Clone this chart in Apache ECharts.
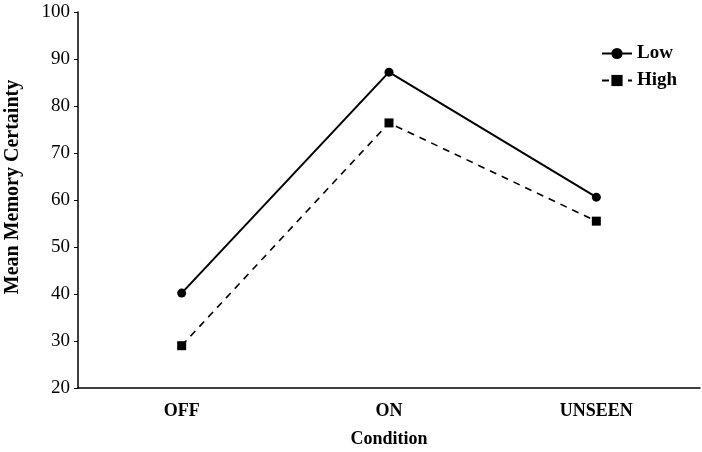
<!DOCTYPE html>
<html>
<head>
<meta charset="utf-8">
<script src="https://cdn.jsdelivr.net/npm/echarts@6/dist/echarts.min.js"></script>
<style>html,body{margin:0;padding:0;background:#fff}#c{width:702px;height:452px}</style>
</head>
<body>
<div id="c"></div>
<script>
const categories = ['OFF', 'ON', 'UNSEEN'];
const lowValues = [40.2, 87.2, 60.6];
const highValues = [29.0, 76.4, 55.5];
const yTicks = [20, 30, 40, 50, 60, 70, 80, 90, 100];

const serif = 'Liberation Serif';
const chart = echarts.init(document.getElementById('c'), null, {renderer: 'canvas'});
chart.setOption({
  backgroundColor: '#fff',
  animation: false,
  grid: {left: 78, right: 2, top: 12, bottom: 64, containLabel: false, outerBoundsMode: 'none'},
  legend: {
    orient: 'vertical', left: 596, top: 39, itemGap: 8,
    itemWidth: 30, itemHeight: 14,
    textStyle: {fontFamily: serif, fontWeight: 'bold', fontSize: 19, color: '#000'},
    data: ['Low', 'High']
  },
  xAxis: {
    type: 'category', data: categories, boundaryGap: true,
    name: 'Condition', nameLocation: 'middle', nameGap: 42,
    nameTextStyle: {fontFamily: serif, fontWeight: 'bold', fontSize: 18, color: '#000'},
    axisLine: {lineStyle: {color: '#000', width: 1.5}},
    axisTick: {alignWithLabel: true, inside: true, length: 4, lineStyle: {color: '#000'}},
    axisLabel: {fontFamily: serif, fontWeight: 'bold', fontSize: 18, color: '#000', margin: 14}
  },
  yAxis: {
    type: 'value', min: yTicks[0], max: yTicks[yTicks.length - 1], interval: 10,
    name: 'Mean Memory Certainty', nameLocation: 'middle', nameGap: 55,
    nameTextStyle: {fontFamily: serif, fontWeight: 'bold', fontSize: 20, color: '#000', padding: [0, 0, 0, 26]},
    axisLine: {show: true, lineStyle: {color: '#000', width: 1.5}},
    axisTick: {show: true, length: 4, lineStyle: {color: '#000'}},
    splitLine: {show: false},
    axisLabel: {fontFamily: serif, fontSize: 19, color: '#000', margin: 8}
  },
  series: [
    {
      name: 'Low', type: 'line', data: lowValues,
      symbol: 'circle', symbolSize: 9,
      lineStyle: {color: '#000', width: 2},
      itemStyle: {color: '#000'}
    },
    {
      name: 'High', type: 'line', data: highValues,
      symbol: 'rect', symbolSize: 9,
      lineStyle: {color: '#000', width: 1.6, type: [7, 6]},
      itemStyle: {color: '#000'}
    }
  ]
});
</script>
</body>
</html>
